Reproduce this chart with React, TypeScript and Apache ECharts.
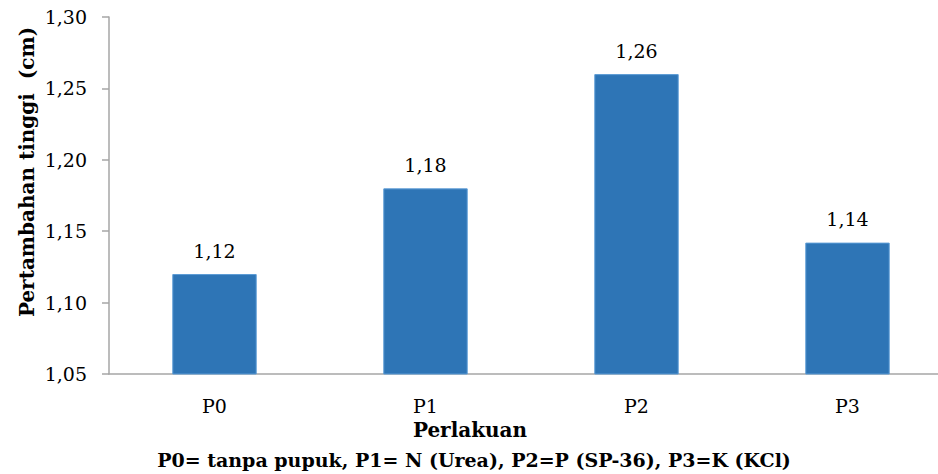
import React, { useEffect, useRef } from "react";
import * as echarts from "echarts";

const categories = ["P0", "P1", "P2", "P3"];
const values = [1.12, 1.18, 1.26, 1.142];
const valueLabels = ["1,12", "1,18", "1,26", "1,14"];
const yAxisTitle = "Pertambahan tinggi  (cm)";
const xAxisTitle = "Perlakuan";
const footnote = "P0= tanpa pupuk, P1= N (Urea), P2=P (SP-36), P3=K (KCl)";

const SERIF = "'DejaVu Serif', 'Liberation Serif', serif";

export default function App() {
  const ref = useRef<HTMLDivElement>(null);
  useEffect(() => {
    if (!ref.current) return;
    const chart = echarts.init(ref.current, null, { renderer: "svg" });
    chart.setOption({
      animation: false,
      backgroundColor: "#ffffff",
      grid: { left: 109, right: 7, top: 17, bottom: 100 },
      xAxis: {
        type: "category",
        data: categories,
        axisLine: { lineStyle: { color: "#a6a6a6", width: 1.5 } },
        axisTick: { show: false },
        axisLabel: { color: "#000", fontFamily: SERIF, fontSize: 19, margin: 22 },
      },
      yAxis: {
        type: "value",
        min: 1.05,
        max: 1.3,
        interval: 0.05,
        splitLine: { show: false },
        axisLine: { show: true, lineStyle: { color: "#a6a6a6", width: 1.5 } },
        axisTick: { show: true, length: 7, lineStyle: { color: "#a6a6a6", width: 1.5 } },
        axisLabel: {
          color: "#000",
          fontFamily: SERIF,
          fontSize: 19,
          margin: 22,
          formatter: (v: number) => v.toFixed(2).replace(".", ","),
        },
      },
      series: [
        {
          type: "bar",
          data: values,
          barWidth: "40%",
          itemStyle: { color: "#2e75b6", borderColor: "#5b9bd5", borderWidth: 1 },
          label: {
            show: true,
            position: "top",
            distance: 14,
            color: "#000",
            fontFamily: SERIF,
            fontSize: 19,
            formatter: (p: any) => valueLabels[p.dataIndex],
          },
        },
      ],
      graphic: [
        {
          type: "text",
          x: 27,
          y: 172,
          rotation: Math.PI / 2,
          style: {
            text: yAxisTitle,
            font: `bold 20px ${SERIF}`,
            fill: "#000",
            align: "center",
            verticalAlign: "middle",
          },
        },
        {
          type: "text",
          x: 470,
          y: 430,
          style: {
            text: xAxisTitle,
            font: `bold 20px ${SERIF}`,
            fill: "#000",
            align: "center",
            verticalAlign: "middle",
          },
        },
        {
          type: "text",
          x: 474,
          y: 460,
          style: {
            text: footnote,
            font: `bold 19px ${SERIF}`,
            fill: "#000",
            align: "center",
            verticalAlign: "middle",
          },
        },
      ],
    });
    return () => chart.dispose();
  }, []);
  return (
    <div
      style={{
        position: "absolute",
        left: 0,
        top: 0,
        width: 938,
        height: 474,
        overflow: "hidden",
      }}
    >
      <div ref={ref} style={{ width: 960, height: 474 }} />
    </div>
  );
}
